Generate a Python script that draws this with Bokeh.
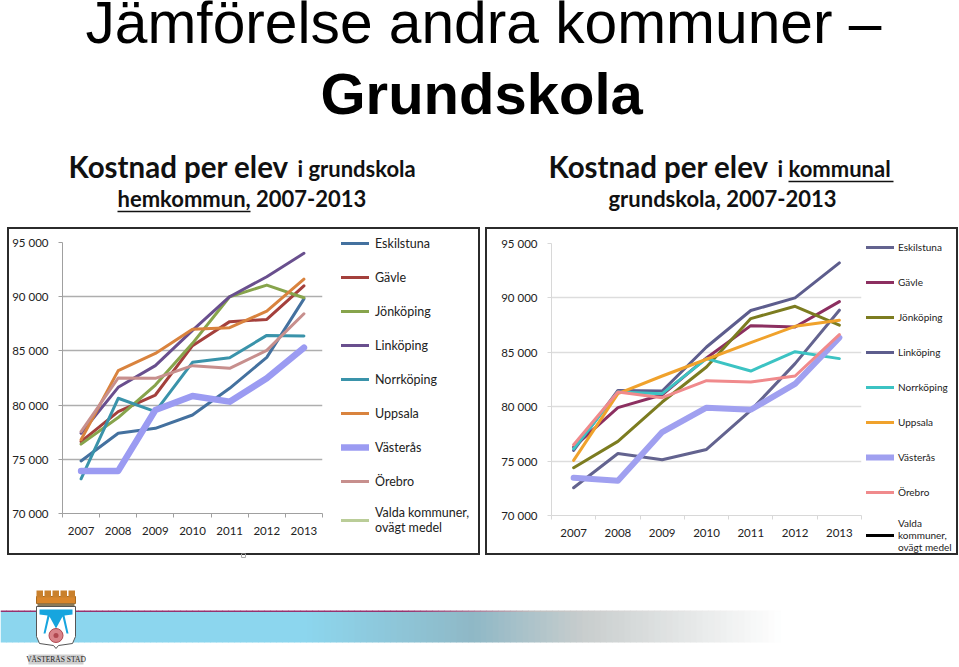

from bokeh.plotting import figure
from bokeh.layouts import column, row
from bokeh.models import Range1d, FixedTicker, Legend, LegendItem
from bokeh.core.properties import value
from bokeh.embed import file_html
from bokeh.resources import INLINE

YEARS = ["2007", "2008", "2009", "2010", "2011", "2012", "2013"]
Y_TICKS = [70000, 75000, 80000, 85000, 90000, 95000]
Y_LABELS = ["70 000", "75 000", "80 000", "85 000", "90 000", "95 000"]
NAMES = ["Eskilstuna", "Gävle", "Jönköping", "Linköping", "Norrköping", "Uppsala", "Västerås", "Örebro"]

HEM_ESKILSTUNA = [74850, 77400, 77860, 79090, 81550, 84400, 89800]
HEM_GAVLE = [76630, 79400, 80930, 85480, 87700, 87900, 91000]
HEM_JONKOPING = [76400, 78850, 81850, 85700, 90000, 91070, 89900]
HEM_LINKOPING = [77400, 81640, 83640, 86900, 90000, 91840, 94000]
HEM_NORRKOPING = [73200, 80630, 79400, 83950, 84370, 86430, 86370]
HEM_UPPSALA = [76800, 83180, 84770, 86990, 87140, 88670, 91620]
HEM_VASTERAS = [73930, 73930, 79550, 80840, 80320, 82470, 85300]
HEM_OREBRO = [77560, 82500, 82470, 83640, 83390, 85050, 88430]
HEM_VALDA = [75870, 78940, 81550, 84000, 85600, 87380, 89530]

KOM_ESKILSTUNA = [72550, 75700, 75120, 76070, 79660, 83960, 88870]
KOM_GAVLE = [76290, 79910, 81100, 84480, 87450, 87330, 89660]
KOM_JONKOPING = [74390, 76810, 80430, 83650, 88100, 89230, 87490]
KOM_LINKOPING = [75980, 81500, 81440, 85490, 88840, 90000, 93220]
KOM_NORRKOPING = [76130, 81350, 81200, 84420, 83280, 85060, 84420]
KOM_UPPSALA = [75060, 81200, 82820, 84360, 85890, 87390, 87950]
KOM_VASTERAS = [73470, 73190, 77670, 79910, 79720, 82090, 86350]
KOM_OREBRO = [76500, 81350, 80830, 82390, 82270, 82820, 86630]
KOM_VALDA = [74850, 78900, 80120, 82580, 84480, 86010, 88190]

HEM = [HEM_ESKILSTUNA, HEM_GAVLE, HEM_JONKOPING, HEM_LINKOPING, HEM_NORRKOPING, HEM_UPPSALA, HEM_VASTERAS, HEM_OREBRO, HEM_VALDA]
KOM = [KOM_ESKILSTUNA, KOM_GAVLE, KOM_JONKOPING, KOM_LINKOPING, KOM_NORRKOPING, KOM_UPPSALA, KOM_VASTERAS, KOM_OREBRO, KOM_VALDA]
HEM_COLORS = ["#44719f", "#a4403c", "#87a44c", "#694f8e", "#3a93aa", "#d9833e", "#9b9bf2", "#c78f8d", "#bacd98"]
KOM_COLORS = ["#63638f", "#8c2f60", "#7c7c20", "#5d5d8d", "#3cc3c3", "#f0a22c", "#a0a0f0", "#f08a8c", "#000000"]

FONT = "Lato"
BOX_STYLE = {"outline": "2px solid #2b2b2b"}


def chart(series, colors, names, w, h, left, top, bottom, grid, axis, tick_size, wide):
    p = figure(width=w, height=h,
               x_range=Range1d(0, 7), y_range=Range1d(70000, 95000),
               output_backend="svg", toolbar_location=None, min_border_left=left,
               min_border_right=1, min_border_top=top, min_border_bottom=bottom,
               outline_line_color=None)
    xs = [i + 0.5 for i in range(len(YEARS))]
    for s, c, n in zip(series, colors, names):
        lw = wide if n == "Västerås" else 3
        p.line(xs, s, line_color=c, line_width=lw, line_cap="round", line_join="round")
    g = p.ygrid[0]
    g.ticker = FixedTicker(ticks=Y_TICKS)
    g.grid_line_color = grid
    g.grid_line_width = 1.5
    p.xgrid.visible = False
    ya = p.yaxis[0]
    ya.ticker = FixedTicker(ticks=Y_TICKS)
    ya.major_label_overrides = dict(zip(Y_TICKS, Y_LABELS))
    ya.major_label_text_font = FONT
    ya.major_label_text_font_size = tick_size
    ya.major_label_text_color = "#222222"
    ya.major_label_standoff = 10
    ya.axis_line_color = axis
    ya.major_tick_line_color = axis
    ya.major_tick_in = 0
    ya.major_tick_out = 4
    ya.minor_tick_line_color = None
    xa = p.xaxis[0]
    xa.ticker = FixedTicker(ticks=xs, minor_ticks=list(range(len(YEARS) + 1)))
    xa.major_label_overrides = dict(zip(xs, YEARS))
    xa.major_label_text_font = FONT
    xa.major_label_text_font_size = tick_size
    xa.major_label_text_color = "#222222"
    xa.major_label_standoff = 7
    xa.axis_line_color = axis
    xa.major_tick_line_color = None
    xa.minor_tick_line_color = axis
    xa.minor_tick_in = 0
    xa.minor_tick_out = 4
    return p


def legend_fig(series, colors, names, w, h, leg_size, leg_x, leg_y, period, wide, standoff):
    # the lines fall outside this panel's ranges: only their legend keys show
    p = figure(width=w, height=h, x_range=Range1d(0, 1), y_range=Range1d(0, 1),
               output_backend="svg", toolbar_location=None, min_border=0, outline_line_color=None)
    p.axis.visible = False
    p.grid.visible = False
    xs = [i + 0.5 for i in range(len(YEARS))]
    items = []
    for s, c, n in zip(series, colors, names):
        lw = wide if n == "Västerås" else 3
        r = p.line(xs, s, line_color=c, line_width=lw, line_cap="round")
        items.append(LegendItem(label=n, renderers=[r]))
    leg = Legend(items=items, location=(leg_x, leg_y), padding=0, margin=0, spacing=period - 20,
                 label_height=20, glyph_height=20, glyph_width=28, label_standoff=standoff,
                 background_fill_alpha=0, border_line_color=None,
                 label_text_font=FONT, label_text_font_size=leg_size, label_text_color="#222222")
    p.add_layout(leg, "center")
    return p


left_p = chart(HEM, HEM_COLORS, NAMES, 314, 324, 52, 13, 40, "#aeaeae", "#a0a0a0", "11.5px", 6.5)
left_l = legend_fig(HEM, HEM_COLORS, NAMES + ["Valda kommuner,\novägt medel"], 155, 324, "12.5px", 18, 18, 34, 6.5, 6)
right_p = chart(KOM, KOM_COLORS, NAMES, 375, 324, 64, 14, 38, "#dddddd", "#d8d8d8", "11.5px", 6)
right_l = legend_fig(KOM, KOM_COLORS, NAMES + ["Valda\nkommuner,\novägt medel"], 94, 324, "10px", 4, 0, 35, 6, 4)

# Title area in pixel coordinates
top = figure(width=959, height=229, x_range=Range1d(0, 959), y_range=Range1d(229, 0),
             output_backend="svg", toolbar_location=None, min_border=0, outline_line_color=None)
top.axis.visible = False
top.grid.visible = False
def txt(fig, x, y, s, size, font=FONT, style="normal", color="#000000"):
    fig.text([x], [y], [s], text_font=value(font), text_font_size=size, text_font_style=style,
             text_color=color, text_baseline="alphabetic", text_align="left")
txt(top, 85, 22, "Jämförelse andra kommuner –", "58.7px", "Liberation Sans")
txt(top, 320, 93, "Grundskola", "58px", "Liberation Sans", "bold")
txt(top, 68, 166, "Kostnad per elev", "29.5px", FONT, "bold", "#111111")
txt(top, 297, 168, "i grundskola", "22px", FONT, "bold", "#111111")
txt(top, 117, 198, "hemkommun, 2007-2013", "22px", FONT, "bold", "#111111")
top.line([117, 250], [211, 211], line_color="#111111", line_width=1.5)
txt(top, 548, 166, "Kostnad per elev", "29.5px", FONT, "bold", "#111111")
txt(top, 777, 168, "i", "22px", FONT, "bold", "#111111")
txt(top, 788, 168, "kommunal", "22px", FONT, "bold", "#111111")
top.line([788, 893], [181, 181], line_color="#111111", line_width=1.5)
txt(top, 608, 198, "grundskola, 2007-2013", "22px", FONT, "bold", "#111111")

# Footer: band and municipal crest
foot = figure(width=959, height=114, x_range=Range1d(0, 959), y_range=Range1d(667, 553),
              output_backend="svg", toolbar_location=None, min_border=0, outline_line_color=None,
              background_fill_alpha=0, border_fill_alpha=0)
foot.axis.visible = False
foot.grid.visible = False

def mix(a, b, t):
    return "#%02x%02x%02x" % tuple(round(a[i] + (b[i] - a[i]) * t) for i in range(3))

STOPS = [(0, (140, 214, 238)), (300, (140, 214, 238)), (470, (143, 184, 198)), (580, (200, 205, 205)), (780, (255, 255, 255))]
LINE_STOPS = [(0, (150, 50, 110)), (400, (150, 50, 110)), (530, (190, 190, 190)), (780, (255, 255, 255))]
def grad(stops, x):
    for (x0, c0), (x1, c1) in zip(stops, stops[1:]):
        if x <= x1:
            return mix(c0, c1, (x - x0) / (x1 - x0))
    return "#ffffff"
step = 6
L = list(range(0, 780, step))
foot.quad(left=L, right=[x + step + 0.5 for x in L], top=[611] * len(L), bottom=[642] * len(L),
          fill_color=[grad(STOPS, x) for x in L], line_color=None)
foot.quad(left=L, right=[x + step + 0.5 for x in L], top=[610] * len(L), bottom=[611.5] * len(L),
          fill_color=[grad(LINE_STOPS, x) for x in L], line_color=None)
# small mark on the left box's lower edge
foot.quad(left=[241], right=[245], top=[553], bottom=[557], fill_color=None, line_color="#aaaaaa")
# crown
foot.patch([36, 36, 75, 75], [603, 596, 596, 603], fill_color="#d9862c", line_color="#a86a20")
for mx in [36, 44, 52, 60, 68]:
    foot.quad(left=[mx], right=[mx + 6.5], top=[590], bottom=[597], fill_color="#c9802c", line_color=None)
foot.quad(left=[37], right=[74], top=[603], bottom=[606], fill_color="#8a7a5a", line_color=None)
# shield
foot.patch([36, 75, 75, 72, 58, 55.5, 53, 39, 36], [606, 606, 636, 643, 645, 648, 645, 643, 636],
           fill_color="#ffffff", line_color="#555555", line_width=1)
# M
foot.patch([39, 72, 72, 64, 68, 70, 66, 62, 55.5, 49, 45, 41, 43, 47, 39],
           [609, 609, 614, 615, 633, 633, 633, 616, 628, 616, 633, 633, 633, 615, 614],
           fill_color="#17a5de", line_color=None)
# rose
foot.scatter([55.5], [635], size=14, fill_color="#d9848a", line_color="#b04850", line_width=1)
foot.scatter([55.5], [635], size=5, fill_color="#b04850", line_color=None)
# name plate
foot.quad(left=[28], right=[83], top=[654], bottom=[664], fill_color="#cfcfcf", line_color=None)
foot.text([55.5], [659], ["VÄSTERÅS STAD"], text_font=value("Liberation Serif"), text_font_size="7.5px",
          text_color="#222222", text_align="center", text_baseline="middle")

left_box = row(left_p, column(left_l, spacing=0), spacing=0, margin=(0, 9, 0, 9), styles=BOX_STYLE)
right_box = row(right_p, column(right_l, spacing=0), spacing=0, margin=(0, 0, 0, 0), styles=BOX_STYLE)
page = column(top, row(left_box, right_box, spacing=0), foot, spacing=0)
open("out.html", "w").write(file_html(page, INLINE))
